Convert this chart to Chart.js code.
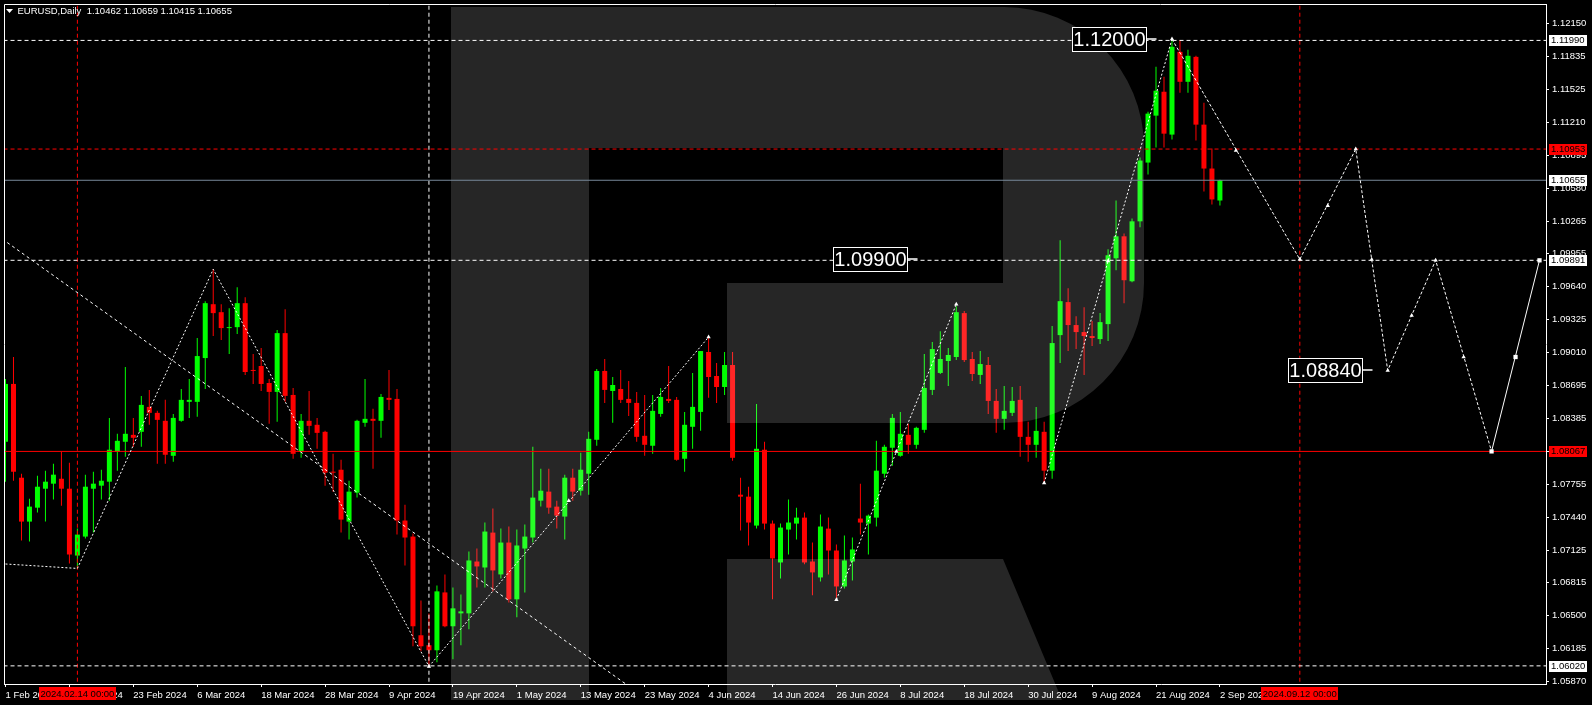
<!DOCTYPE html>
<html>
<head>
<meta charset="utf-8">
<script src="https://cdn.jsdelivr.net/npm/chart.js@4.4.1/dist/chart.umd.min.js"></script>
<style>
  html, body { margin: 0; padding: 0; background: #000; }
</style>
</head>
<body>
<canvas id="chart" width="1592" height="705"></canvas>
<script>
// EURUSD daily bars, bar 0 = 1 Feb 2024, bar 152 = 2 Sep 2024
const opens = [1.08159,1.08711,1.07816,1.07397,1.07530,1.07711,1.07759,1.07806,1.07711,1.07073,
  1.07254,1.07711,1.07740,1.07778,1.08064,1.08159,1.08225,1.08254,1.08492,1.08435,
  1.08359,1.08025,1.08359,1.08540,1.08540,1.08958,1.09472,1.09396,1.09244,1.09253,
  1.09482,1.08844,1.08882,1.08720,1.08635,1.09196,1.08606,1.08064,1.08359,1.08321,
  1.08254,1.07873,1.07892,1.07397,1.07673,1.08340,1.08378,1.08359,1.08578,1.08568,
  1.07407,1.07254,1.06312,1.06217,1.06169,1.06721,1.06398,1.06521,1.06521,1.07016,
  1.06959,1.07292,1.06893,1.07197,1.06655,1.07140,1.07245,1.07597,1.07683,1.07540,
  1.07445,1.07816,1.07692,1.07854,1.08178,1.08835,1.08644,1.08663,1.08568,1.08530,
  1.08216,1.08121,1.08425,1.08568,1.08559,1.07997,1.08302,1.08444,1.09016,1.08787,
  1.08682,1.08892,1.07654,1.07635,1.07359,1.08083,1.07378,1.07007,1.07321,1.07378,
  1.07435,1.07016,1.06864,1.07330,1.07121,1.06778,1.07016,1.07426,1.07378,1.07435,
  1.07854,1.08102,1.08025,1.08225,1.08130,1.08273,1.08654,1.08816,1.08930,1.08968,
  1.09387,1.08949,1.08797,1.08892,1.08549,1.08378,1.08435,1.08559,1.08206,1.08130,
  1.08254,1.07883,1.09177,1.09492,1.09273,1.09206,1.09168,1.09139,1.09282,1.09910,
  1.10120,1.09691,1.10263,1.10824,1.11272,1.11500,1.11091,1.11881,1.11595,1.11833,
  1.11186,1.10767,1.10462];
const highs = [1.08758,1.08968,1.07854,1.07616,1.07835,1.07883,1.07949,1.08064,1.07959,1.07330,
  1.07845,1.07873,1.07892,1.08387,1.08235,1.08873,1.08387,1.08597,1.08654,1.08454,
  1.08559,1.08425,1.08663,1.08758,1.09149,1.09501,1.09806,1.09472,1.09434,1.09634,
  1.09539,1.08996,1.09054,1.08758,1.09225,1.09425,1.08673,1.08425,1.08644,1.08387,
  1.08263,1.08044,1.07987,1.07787,1.08368,1.08758,1.08473,1.08616,1.08844,1.08663,
  1.07559,1.07283,1.06645,1.06521,1.06788,1.06893,1.06769,1.06702,1.07112,1.07140,
  1.07388,1.07521,1.07330,1.07350,1.07321,1.07369,1.08111,1.07902,1.07902,1.07597,
  1.07845,1.07902,1.08054,1.08254,1.08854,1.08949,1.08777,1.08844,1.08739,1.08635,
  1.08606,1.08606,1.08673,1.08882,1.08587,1.08444,1.08816,1.09025,1.09158,1.08911,
  1.09016,1.09016,1.07816,1.07730,1.08520,1.08159,1.07407,1.07378,1.07607,1.07530,
  1.07483,1.07197,1.07464,1.07435,1.07178,1.07264,1.07245,1.07759,1.07464,1.08168,
  1.08130,1.08425,1.08444,1.08330,1.08302,1.08996,1.09111,1.09215,1.09054,1.09453,
  1.09406,1.09016,1.09025,1.08968,1.08663,1.08692,1.08682,1.08692,1.08349,1.08492,
  1.08349,1.09263,1.10082,1.09625,1.09358,1.09444,1.09311,1.09387,1.09996,1.10463,
  1.10148,1.10291,1.10872,1.11310,1.11738,1.11643,1.12003,1.11995,1.11900,1.11843,
  1.11396,1.10958,1.10659];
const lows = [1.07778,1.07787,1.07216,1.07207,1.07483,1.07397,1.07607,1.07549,1.06997,1.06950,
  1.07235,1.07292,1.07607,1.07597,1.07883,1.08016,1.08111,1.08111,1.08321,1.07949,
  1.07949,1.07968,1.08349,1.08387,1.08397,1.08663,1.09168,1.09130,1.08996,1.09187,
  1.08797,1.08711,1.08644,1.08330,1.08349,1.08540,1.07997,1.08006,1.08225,1.08092,
  1.07740,1.07683,1.07292,1.07226,1.07626,1.08302,1.07902,1.08197,1.08463,1.07273,
  1.06978,1.06207,1.06160,1.06015,1.06055,1.06388,1.06083,1.06217,1.06369,1.06769,
  1.06769,1.06731,1.06854,1.06626,1.06483,1.06721,1.07197,1.07540,1.07473,1.07330,
  1.07226,1.07597,1.07645,1.07654,1.08121,1.08530,1.08340,1.08530,1.08406,1.08159,
  1.08025,1.08044,1.08397,1.08530,1.07978,1.07873,1.08092,1.08263,1.08578,1.08530,
  1.08606,1.07978,1.07311,1.07169,1.07330,1.07321,1.06655,1.06854,1.07083,1.07226,
  1.06990,1.06693,1.06826,1.06893,1.06645,1.06759,1.06835,1.07273,1.07083,1.07350,
  1.07816,1.07930,1.08015,1.08044,1.08092,1.08244,1.08606,1.08806,1.08692,1.08939,
  1.08920,1.08739,1.08711,1.08425,1.08244,1.08273,1.08406,1.08016,1.07968,1.08006,
  1.07765,1.07806,1.08911,1.09025,1.09044,1.08797,1.09073,1.09092,1.09120,1.09796,
  1.09482,1.09681,1.10206,1.10710,1.10967,1.10967,1.11043,1.11491,1.11491,1.11034,
  1.10548,1.10424,1.10415];
const closes = [1.08711,1.07873,1.07397,1.07540,1.07730,1.07778,1.07845,1.07711,1.07083,1.07273,
  1.07730,1.07759,1.07787,1.08083,1.08168,1.08235,1.08197,1.08511,1.08435,1.08368,
  1.08035,1.08387,1.08559,1.08559,1.08977,1.09482,1.09387,1.09244,1.09253,1.09482,
  1.08825,1.08835,1.08711,1.08635,1.09196,1.08597,1.08044,1.08359,1.08311,1.08244,
  1.07864,1.07864,1.07416,1.07683,1.08359,1.08378,1.08359,1.08587,1.08559,1.07407,
  1.07245,1.06398,1.06207,1.06169,1.06731,1.06398,1.06569,1.06540,1.07026,1.06969,
  1.07302,1.06931,1.07197,1.06655,1.07169,1.07254,1.07626,1.07692,1.07530,1.07454,
  1.07816,1.07683,1.07892,1.08187,1.08835,1.08654,1.08701,1.08559,1.08530,1.08206,
  1.08130,1.08454,1.08587,1.08549,1.07987,1.08321,1.08492,1.09025,1.08777,1.08682,
  1.08892,1.08006,1.07635,1.07388,1.08092,1.07378,1.07045,1.07340,1.07388,1.07435,
  1.07007,1.06912,1.07350,1.07121,1.06778,1.07026,1.07131,1.07388,1.07454,1.07883,
  1.08111,1.08387,1.08235,1.08130,1.08292,1.08673,1.09044,1.08949,1.08987,1.09396,
  1.08939,1.08806,1.08901,1.08549,1.08378,1.08454,1.08549,1.08206,1.08130,1.08263,
  1.07883,1.09101,1.09501,1.09273,1.09206,1.09168,1.09149,1.09301,1.09939,1.10120,
  1.09701,1.10263,1.10843,1.11291,1.11510,1.11100,1.11929,1.11595,1.11843,1.11186,
  1.10767,1.10472,1.10655];

// time axis: bar index of each date label
const dateTicks = [0, 8, 16, 24, 32, 40, 48, 56, 64, 72, 80, 88, 96, 104, 112, 120, 128, 136, 144, 152];
const dateLabels = ['1 Feb 2024', '13 Feb 2024', '23 Feb 2024', '6 Mar 2024', '18 Mar 2024', '28 Mar 2024',
  '9 Apr 2024', '19 Apr 2024', '1 May 2024', '13 May 2024', '23 May 2024', '4 Jun 2024', '14 Jun 2024',
  '26 Jun 2024', '8 Jul 2024', '18 Jul 2024', '30 Jul 2024', '9 Aug 2024', '21 Aug 2024', '2 Sep 2024'];
const priceTicks = [1.12150, 1.11835, 1.11525, 1.11210, 1.10895, 1.10580, 1.10265, 1.09955, 1.09640,
  1.09325, 1.09010, 1.08695, 1.08385, 1.08070, 1.07755, 1.07440, 1.07125, 1.06815, 1.06500, 1.06185, 1.05870];

// horizontal levels
const dashedLevels = [1.11990, 1.09891, 1.06020];
const signalLevels = [1.10953];
const supportLevels = [1.08067];
const bidPrice = 1.10655;

// vertical markers
const markedDays = [9, 162];
const markedDayLabels = ['2024.02.14 00:00', '2024.09.12 00:00'];
const swingLowDay = 53;

// wave lines drawn on the chart (bar index, price)
const waveSegments = [
  [[-1, 1.06997], [9, 1.06950], [26, 1.09806], [53, 1.06015]],
  [[53, 1.06015], [88, 1.09158]],
  [[104, 1.06652], [119, 1.09472]],
  [[130, 1.07765], [146, 1.12003]]
];
const forecastPath = [[146, 1.12003], [162, 1.09900], [169, 1.10953], [173, 1.08840], [179, 1.09891], [186, 1.08067]];
const forecastLast = [[186, 1.08067], [192, 1.09891]];
const trendLine = [[-1, 1.10127], [78, 1.05827]];
const arrowMarks = [[53, 1.06015], [70.5, 1.07597], [88, 1.09158], [104, 1.06652], [111.5, 1.08066],
  [119, 1.09472], [130, 1.07765], [138, 1.09884], [146, 1.12003], [154, 1.10940], [162, 1.09900],
  [165.5, 1.10412], [169, 1.10953], [171, 1.09898], [173, 1.08840], [176, 1.09365], [179, 1.09891], [182.5, 1.08968]];
const squareMarks = [[186, 1.08067], [189, 1.08968], [192, 1.09891]];

// text labels: value, bar index of the right edge
const noteValues = ['1.12000', '1.09900', '1.08840'];
const noteBars = [142.8, 112.8, 169.8];

const header = 'EURUSD,Daily  1.10462 1.10659 1.10415 1.10655';

const UP = '#00ff00';
const DOWN = '#ff0000';
const FONT = '"Liberation Sans", Arial, sans-serif';

const candleColors = closes.map((c, i) => c >= opens[i] ? UP : DOWN);
const toPts = arr => arr.map(p => ({ x: p[0], y: p[1] }));

function hline(price, color, dash) {
  return {
    type: 'line', data: [{ x: -2, y: price }, { x: 195, y: price }],
    borderColor: color, borderWidth: 1, borderDash: dash, pointRadius: 0, order: 2
  };
}
function vline(bar, color) {
  return {
    type: 'line', data: [{ x: bar, y: 1.05 }, { x: bar, y: 1.13 }],
    borderColor: color, borderWidth: 1, borderDash: [4, 3], pointRadius: 0, order: 2
  };
}

const datasets = [
  {
    type: 'bar', data: opens.map((o, i) => ({ x: i, y: [lows[i], highs[i]] })),
    backgroundColor: candleColors, barThickness: 1, grouped: false, inflateAmount: 0, borderWidth: 0, order: 10
  },
  {
    type: 'bar', data: opens.map((o, i) => ({ x: i, y: [o, closes[i]] })),
    backgroundColor: candleColors, barThickness: 5, grouped: false, inflateAmount: 0, borderWidth: 0,
    minBarLength: 1, order: 9
  }
];
dashedLevels.forEach(p => datasets.push(hline(p, '#ffffff', [4, 3])));
signalLevels.forEach(p => datasets.push(hline(p, '#ff0000', [4, 3])));
supportLevels.forEach(p => datasets.push(hline(p, '#ff0000', [])));
datasets.push(hline(bidPrice, '#778899', []));
markedDays.forEach(d => datasets.push(vline(d, '#ff0000')));
datasets.push(vline(swingLowDay, '#ffffff'));

const dotted = { type: 'line', borderColor: '#ffffff', borderWidth: 1, borderDash: [2, 2], pointRadius: 0, order: 1 };
waveSegments.forEach(seg => datasets.push({ ...dotted, data: toPts(seg) }));
datasets.push({ ...dotted, data: toPts(trendLine), borderDash: [3, 3] });
datasets.push({ ...dotted, data: toPts(forecastPath), borderDash: [3, 2] });
datasets.push({ ...dotted, data: toPts(forecastLast), borderDash: [] });
datasets.push({
  type: 'line', data: toPts(arrowMarks), showLine: false, pointStyle: 'triangle', pointRadius: 2.5,
  pointBackgroundColor: '#fff', pointBorderWidth: 0, order: 0
});
datasets.push({
  type: 'line', data: toPts(squareMarks), showLine: false, pointStyle: 'rect', pointRadius: 3,
  pointBackgroundColor: '#fff', pointBorderWidth: 0, order: 0
});

// watermark logo, drawn translucent over the bars
const logoOverlay = {
  id: 'logoOverlay',
  beforeDraw(chart) {
    const ctx = chart.ctx;
    ctx.save();
    ctx.fillStyle = '#000';
    ctx.fillRect(0, 0, chart.width, chart.height);
    ctx.restore();
  },
  afterDatasetDraw(chart, args) {
    if (args.index !== 1) return;
    const ctx = chart.ctx;
    ctx.save();
    ctx.fillStyle = 'rgba(255,255,255,0.15)';
    ctx.beginPath();
    ctx.moveTo(451, 7);
    ctx.lineTo(1004, 7);
    ctx.arc(1004, 147, 140, -Math.PI / 2, 0);
    ctx.lineTo(1144, 283);
    ctx.arc(1004, 283, 140, 0, Math.PI / 2);
    ctx.lineTo(727, 423);
    ctx.lineTo(727, 283);
    ctx.lineTo(1003, 283);
    ctx.lineTo(1003, 148);
    ctx.lineTo(589, 148);
    ctx.lineTo(589, 700);
    ctx.lineTo(451, 700);
    ctx.closePath();
    ctx.moveTo(727, 559);
    ctx.lineTo(1003, 559);
    ctx.lineTo(1062, 700);
    ctx.lineTo(727, 700);
    ctx.closePath();
    ctx.fill();
    ctx.restore();
  }
};

// labels, price tags and frame
const overlayText = {
  id: 'overlayText',
  afterDraw(chart) {
    const ctx = chart.ctx;
    const xs = chart.scales.x, ys = chart.scales.y;
    const area = chart.chartArea;
    ctx.save();

    // frame top/left
    ctx.strokeStyle = '#fff';
    ctx.lineWidth = 1;
    ctx.beginPath();
    ctx.moveTo(area.left + 0.5, area.bottom);
    ctx.lineTo(area.left + 0.5, area.top + 0.5);
    ctx.lineTo(area.right, area.top + 0.5);
    ctx.stroke();

    // header
    ctx.fillStyle = '#fff';
    ctx.beginPath();
    ctx.moveTo(6, 9); ctx.lineTo(13, 9); ctx.lineTo(9.5, 13); ctx.closePath();
    ctx.fill();
    ctx.font = '9.5px ' + FONT;
    ctx.textBaseline = 'middle';
    ctx.textAlign = 'left';
    ctx.fillText(header, 17.5, 11);

    // boxed notes
    noteValues.forEach((txt, k) => {
      const right = Math.round(xs.getPixelForValue(noteBars[k])) + 0.5;
      const cy = Math.round(ys.getPixelForValue(parseFloat(txt)));
      ctx.fillStyle = '#000';
      ctx.fillRect(right - 74, cy - 12, 74, 24);
      ctx.strokeStyle = '#fff';
      ctx.lineWidth = 1;
      ctx.strokeRect(right - 74, cy - 12 + 0.5, 74, 24);
      ctx.fillStyle = '#fff';
      ctx.font = '20px ' + FONT;
      ctx.textAlign = 'center';
      ctx.fillText(txt, right - 37, cy + 1);
      ctx.lineWidth = 1.5;
      ctx.beginPath();
      ctx.moveTo(right, cy);
      ctx.lineTo(right + 10, cy);
      ctx.stroke();
    });

    // price tags on right axis
    const tags = [];
    dashedLevels.forEach(p => tags.push([p, '#fff']));
    signalLevels.forEach(p => tags.push([p, '#f00']));
    supportLevels.forEach(p => tags.push([p, '#f00']));
    tags.push([bidPrice, '#fff']);
    ctx.font = '9.5px ' + FONT;
    ctx.textAlign = 'left';
    tags.forEach(([p, bg]) => {
      const y = ys.getPixelForValue(p);
      ctx.fillStyle = bg;
      ctx.fillRect(1549, Math.round(y) - 5, 38, 11);
      ctx.fillStyle = '#000';
      ctx.fillText(p.toFixed(5), 1551, Math.round(y) + 0.5);
    });

    // red date tags on time axis
    markedDays.forEach((d, k) => {
      const x = xs.getPixelForValue(d);
      ctx.fillStyle = '#f00';
      ctx.fillRect(Math.round(x - 38.5), 687, 77, 13);
      ctx.fillStyle = '#000';
      ctx.textAlign = 'center';
      ctx.fillText(markedDayLabels[k], x, 694);
    });
    ctx.restore();
  }
};

new Chart(document.getElementById('chart'), {
  type: 'bar',
  data: { datasets },
  options: {
    responsive: false,
    animation: false,
    events: [],
    layout: { padding: { left: 2, top: 2, right: 0, bottom: 0 } },
    plugins: { legend: { display: false }, tooltip: { enabled: false } },
    scales: {
      x: {
        type: 'linear', position: 'bottom', min: -0.1875, max: 192.8125, offset: false,
        afterBuildTicks: s => { s.ticks = dateTicks.map(v => ({ value: v })); },
        afterFit: s => { s.height = 21; s.paddingLeft = 0; s.paddingRight = 0; },
        ticks: {
          autoSkip: false, maxRotation: 0, minRotation: 0, align: 'start', padding: 2.5,
          color: '#fff', font: { family: FONT, size: 9.5 },
          callback: (v, idx) => dateLabels[idx]
        },
        grid: { drawOnChartArea: false, drawTicks: true, tickLength: 3, color: '#fff', offset: false },
        border: { display: true, color: '#fff' }
      },
      y: {
        type: 'linear', position: 'right', min: 1.058469, max: 1.123375, beginAtZero: false,
        afterBuildTicks: s => { s.ticks = priceTicks.map(v => ({ value: v })); },
        afterFit: s => { s.width = 46; s.paddingTop = 0; s.paddingBottom = 0; },
        ticks: {
          autoSkip: false, padding: 3, color: '#fff', font: { family: FONT, size: 9.5 },
          callback: v => v.toFixed(5)
        },
        grid: { drawOnChartArea: false, drawTicks: true, tickLength: 3, color: '#fff' },
        border: { display: true, color: '#fff' }
      }
    }
  },
  plugins: [logoOverlay, overlayText]
});
</script>
</body>
</html>
